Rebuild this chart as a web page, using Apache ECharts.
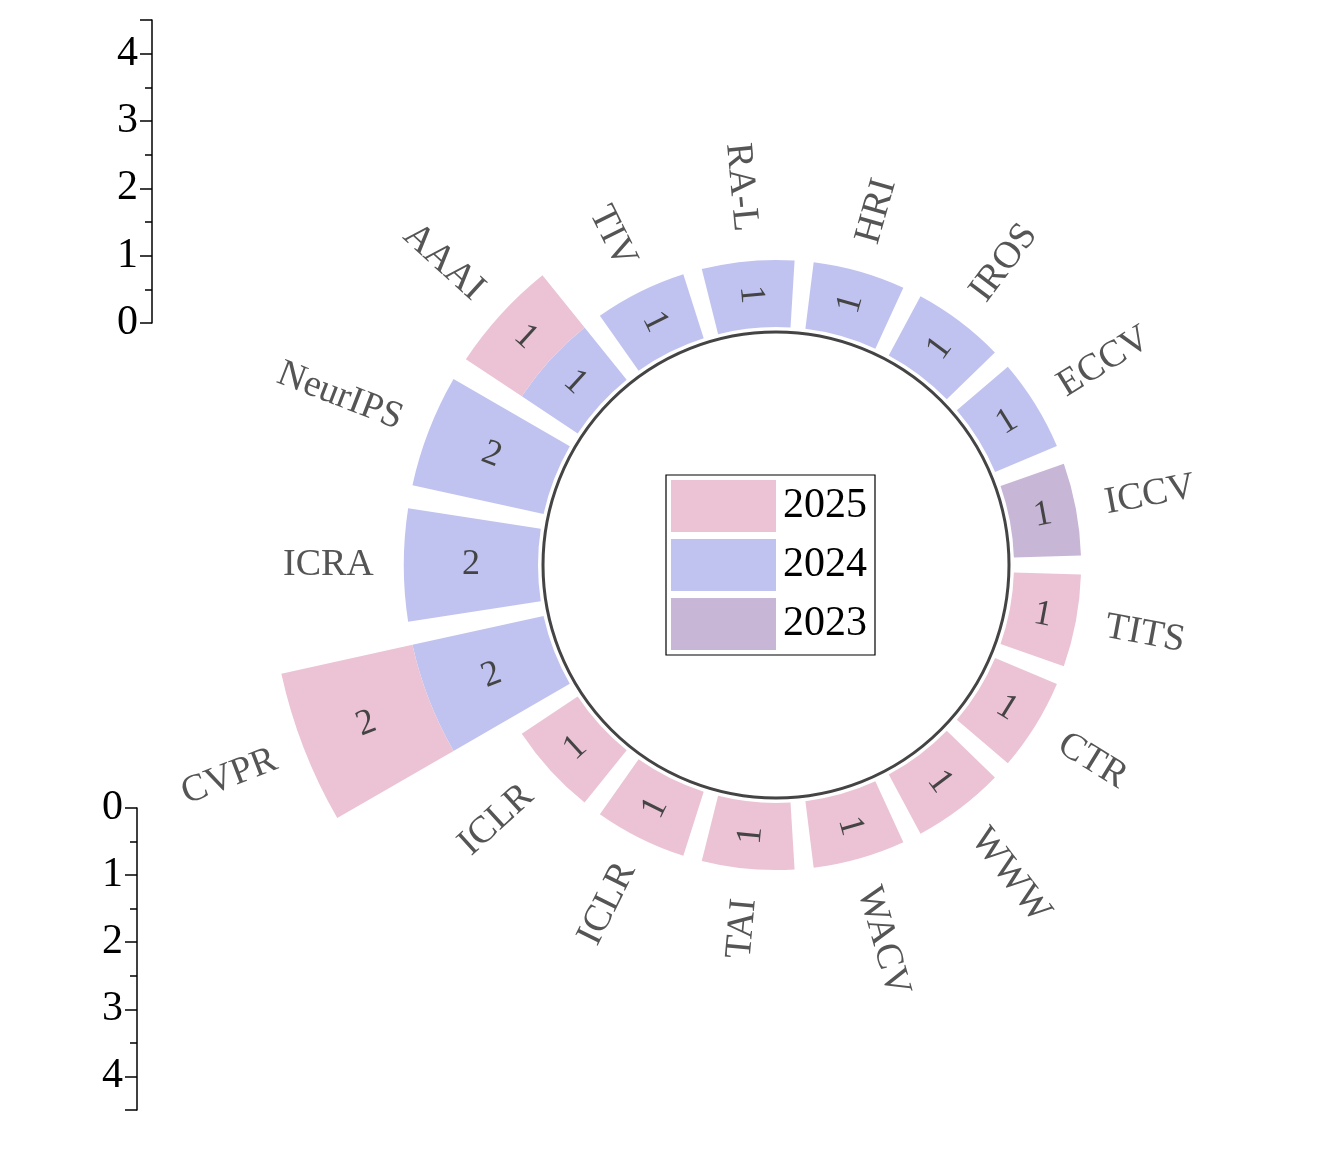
<!DOCTYPE html>
<html>
<head>
<meta charset="utf-8">
<script src="https://cdn.jsdelivr.net/npm/echarts@6/dist/echarts.min.js"></script>
<style>html,body{margin:0;background:#fff}#chart{width:1326px;height:1166px}</style>
</head>
<body>
<div id="chart"></div>
<script>
/* global echarts */
// clockwise from the left (ICRA)
const venues = ['ICRA', 'NeurIPS', 'AAAI', 'TIV', 'RA-L', 'HRI', 'IROS', 'ECCV', 'ICCV',
    'TITS', 'CTR', 'WWW', 'WACV', 'TAI', 'ICLR', 'ICLR', 'CVPR'];
const years = ['2025', '2024', '2023'];
const count2024 = [2, 2, 1, 1, 1, 1, 1, 1, 0, 0, 0, 0, 0, 0, 0, 0, 2];
const count2025 = [0, 0, 1, 0, 0, 0, 0, 0, 0, 1, 1, 1, 1, 1, 1, 1, 2];
const count2023 = [0, 0, 0, 0, 0, 0, 0, 0, 1, 0, 0, 0, 0, 0, 0, 0, 0];
const radialTicks = [0, 1, 2, 3, 4];

const colors = { '2025': '#ebc3d5', '2024': '#c0c3f0', '2023': '#c8b6d7' };
const serif = 'Liberation Serif';
const catIds = venues.map((v, i) => 'c' + i);
const step = 360 / venues.length;

// value labels: middle of each segment
const valueLabels = [];
const nameLabels = [];
venues.forEach((v, i) => {
    let base = 0;
    [count2024, count2025, count2023].forEach(arr => {
        if (arr[i] > 0) {
            valueLabels.push([base + arr[i] / 2, i, String(arr[i])]);
            base += arr[i];
        }
    });
    nameLabels.push([base, i, v]);
});

function radialText(params, api, fontSize, color, gap, mode) {
    const p = api.coord([api.value(0), api.value(1)]);
    const cx = params.coordSys.cx, cy = params.coordSys.cy;
    const dx = p[0] - cx, dy = cy - p[1];
    const len = Math.sqrt(dx * dx + dy * dy);
    const theta = Math.atan2(dy, dx);
    const left = Math.cos(theta) < 0;
    const r = len + gap;
    const x = cx + r * Math.cos(theta), y = cy - r * Math.sin(theta);
    return {
        type: 'text',
        x: x, y: y,
        rotation: left ? theta - Math.PI : theta,
        style: {
            text: api.value(2),
            fontFamily: serif,
            fontSize: fontSize,
            fill: color,
            align: mode === 'end' ? (left ? 'right' : 'left') : 'center',
            verticalAlign: 'middle'
        }
    };
}

const chart = echarts.init(document.getElementById('chart'));

const yAxisCommon = {
    type: 'value', min: 0, max: 4.5, interval: 1,
    axisLine: { show: true, lineStyle: { color: '#000', width: 1.5 } },
    axisTick: { show: true, length: 12, lineStyle: { color: '#000', width: 1.5 } },
    minorTick: { show: true, splitNumber: 2, length: 7, lineStyle: { color: '#000', width: 1.5 } },
    splitLine: { show: false },
    axisLabel: {
        fontFamily: serif, fontSize: 42, color: '#000', margin: 14,
        formatter: v => radialTicks.includes(v) ? String(v) : ''
    }
};

const option = {
    animation: false,
    polar: { center: [776, 565], radius: [238, 540] },
    angleAxis: {
        type: 'category', data: catIds, startAngle: 180 + step / 2, clockwise: true,
        axisLine: { show: false }, axisTick: { show: false }, axisLabel: { show: false },
        splitLine: { show: false }
    },
    radiusAxis: {
        min: 0, max: 4.5,
        axisLine: { show: false }, axisTick: { show: false }, axisLabel: { show: false },
        splitLine: { show: false }
    },
    grid: [
        { left: 152, top: 20, height: 303, width: 10 },
        { left: 137, top: 808, height: 302, width: 10 }
    ],
    xAxis: [
        { gridIndex: 0, show: false, type: 'value' },
        { gridIndex: 1, show: false, type: 'value' }
    ],
    yAxis: [
        Object.assign({ gridIndex: 0 }, yAxisCommon),
        Object.assign({ gridIndex: 1, inverse: true }, yAxisCommon)
    ],
    legend: {
        data: years, orient: 'vertical', left: 666, top: 475,
        padding: [5, 8, 5, 5], itemWidth: 105, itemHeight: 52, itemGap: 7, icon: 'rect',
        borderColor: '#000', borderWidth: 1.2,
        textStyle: { fontFamily: serif, fontSize: 42, color: '#000', padding: [0, 0, 0, 2] }
    },
    graphic: [{
        type: 'circle', shape: { cx: 776, cy: 565, r: 233 },
        style: { fill: '#fff', stroke: '#444', lineWidth: 3 }, z: -1
    }],
    series: [
        { name: '2024', type: 'bar', coordinateSystem: 'polar', stack: 'a', data: count2024,
          barCategoryGap: '17%', itemStyle: { color: colors['2024'] } },
        { name: '2025', type: 'bar', coordinateSystem: 'polar', stack: 'a', data: count2025,
          barCategoryGap: '17%', itemStyle: { color: colors['2025'] } },
        { name: '2023', type: 'bar', coordinateSystem: 'polar', stack: 'a', data: count2023,
          barCategoryGap: '17%', itemStyle: { color: colors['2023'] } },
        { type: 'custom', coordinateSystem: 'polar', data: valueLabels,
          encode: { radius: 0, angle: 1 }, z: 10,
          renderItem: (params, api) => radialText(params, api, 36, '#444', 0, 'mid') },
        { type: 'custom', coordinateSystem: 'polar', data: nameLabels,
          encode: { radius: 0, angle: 1 }, z: 10,
          renderItem: (params, api) => radialText(params, api, 38, '#555', 30, 'end') }
    ]
};
chart.setOption(option);
</script>
</body>
</html>
